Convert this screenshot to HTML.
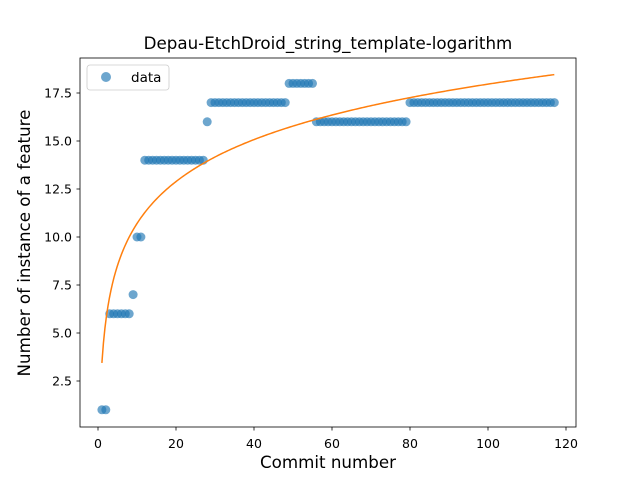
<!DOCTYPE html>
<html><head><meta charset="utf-8"><style>
body{margin:0;background:#fff}
svg text{font-family:"DejaVu Sans","Liberation Sans",sans-serif;fill:#000}
</style></head><body>
<svg id="chart" width="640" height="480">
<rect width="640" height="480" fill="#fff"/>
<text x="328" y="49" text-anchor="middle" font-size="16.7">Depau-EtchDroid_string_template-logarithm</text>
<g id="plot"></g>
<rect x="80" y="58" width="496" height="369" fill="none" stroke="#000" stroke-width="0.8"/>
<text x="328" y="468" text-anchor="middle" font-size="16.7">Commit number</text>
<text transform="translate(30,243) rotate(-90)" text-anchor="middle" font-size="16.7">Number of instance of a feature</text>
<g>
<rect x="87" y="65" width="82" height="25" rx="3" fill="#fff" fill-opacity="0.8" stroke="#ccc" stroke-width="0.8"/>
<circle cx="106" cy="77" r="5" fill="#1f77b4" fill-opacity="0.65"/>
<text x="131" y="82" font-size="13.5">data</text>
</g>
</svg>
<script>
const xTicks=[0,20,40,60,80,100,120];
const yTicks=[2.5,5.0,7.5,10.0,12.5,15.0,17.5];
const commits=[];for(let i=1;i<=117;i++)commits.push(i);
const counts=[1,1,6,6,6,6,6,6,7,10,10,
14,14,14,14,14,14,14,14,14,14,14,14,14,14,14,14,
16,
17,17,17,17,17,17,17,17,17,17,17,17,17,17,17,17,17,17,17,17,
18,18,18,18,18,18,18,
16,16,16,16,16,16,16,16,16,16,16,16,16,16,16,16,16,16,16,16,16,16,16,16,
17,17,17,17,17,17,17,17,17,17,17,17,17,17,17,17,17,17,17,17,17,17,17,17,17,17,17,17,17,17,17,17,17,17,17,17,17,17];
const NS='http://www.w3.org/2000/svg';
const sx=x=>98+x*3.9, sy=y=>381-(y-2.5)*19.2;
const g=document.getElementById('plot');
function mk(t,a){const e=document.createElementNS(NS,t);for(const k in a)e.setAttribute(k,a[k]);return e;}
xTicks.forEach(v=>{
 const l=mk('line',{x1:sx(v),x2:sx(v),y1:427,y2:430.5,stroke:'#000','stroke-width':0.8});
 
 g.appendChild(l);
 const t=mk('text',{x:sx(v),y:448,'text-anchor':'middle','font-size':12.5});t.textContent=v;
 
 g.appendChild(t);
});
yTicks.forEach(v=>{
 const l=mk('line',{x1:76.5,x2:80,y1:sy(v),y2:sy(v),stroke:'#000','stroke-width':0.8});
 
 g.appendChild(l);
 const t=mk('text',{x:72,y:sy(v)+4.5,'text-anchor':'end','font-size':12.5});t.textContent=v.toFixed(1);
 
 g.appendChild(t);
});
commits.forEach((x,i)=>{
 const c=mk('circle',{cx:sx(x),cy:sy(counts[i]),r:4.5,fill:'#1f77b4','fill-opacity':0.65});
 
 g.appendChild(c);
});
let n=commits.length,sl=0,sy2=0,sll=0,sly=0;
commits.forEach((x,i)=>{const l=Math.log(x);sl+=l;sy2+=counts[i];sll+=l*l;sly+=l*counts[i];});
const b=(n*sly-sl*sy2)/(n*sll-sl*sl),a=(sy2-b*sl)/n;
let d='';for(let i=0;i<=300;i++){const x=1+(commits[n-1]-1)*i/300;d+=(i?'L':'M')+sx(x).toFixed(2)+','+sy(a+b*Math.log(x)).toFixed(2);}
const p=mk('path',{d:d,fill:'none',stroke:'#ff7f0e','stroke-width':1.5});

g.appendChild(p);
</script>
</body></html>
